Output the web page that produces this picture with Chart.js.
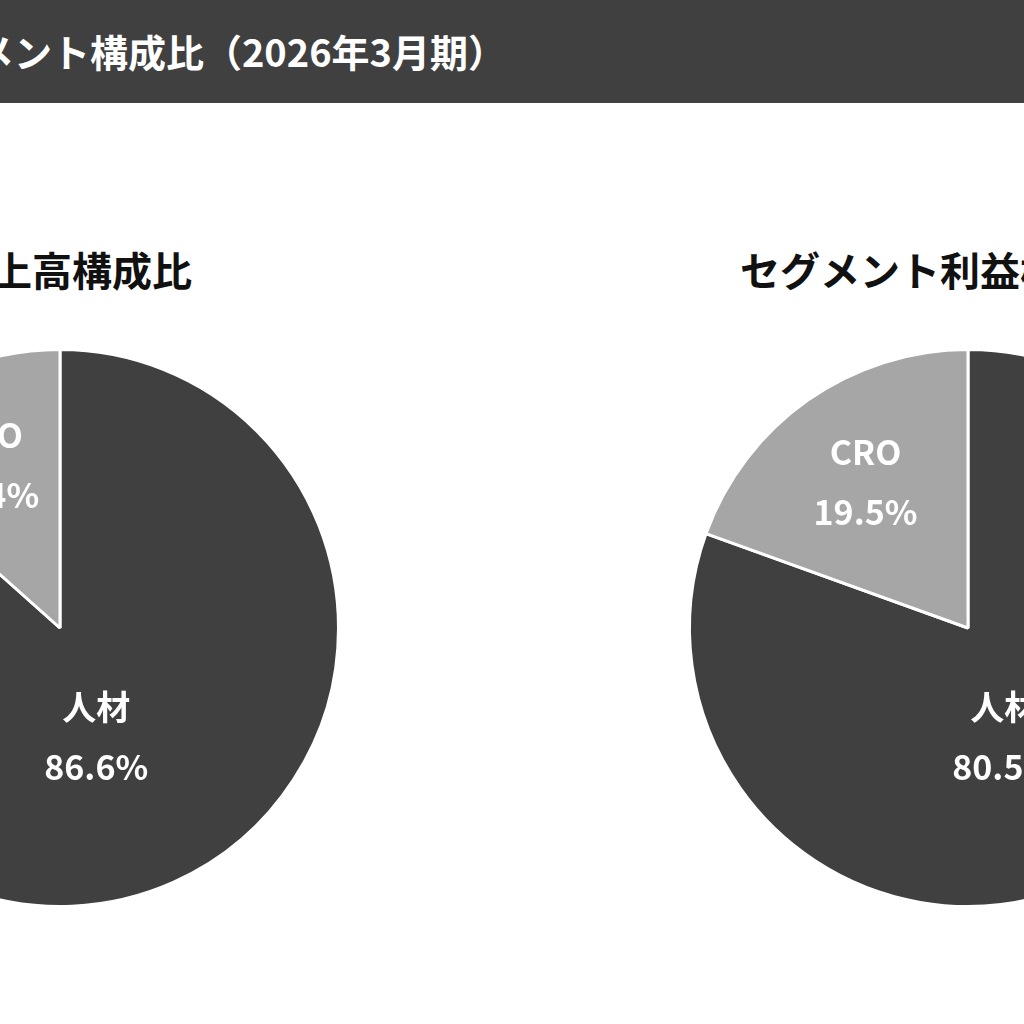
<!DOCTYPE html>
<html><head><meta charset="utf-8">
<script src="https://cdn.jsdelivr.net/npm/chart.js@4"></script>
<style>
body{margin:0;width:1024px;height:1024px;overflow:hidden;background:#fff;position:relative;font-family:"Noto Sans CJK JP","Noto Sans",sans-serif;}
.hdr{position:absolute;left:0;top:0;width:1024px;height:103px;background:#404040;}
.hdr span{position:absolute;right:518px;top:50%;transform:translateY(-52%);color:#fff;font-weight:bold;font-size:38px;white-space:nowrap;}
.t{position:absolute;font-weight:bold;font-size:40px;color:#111;white-space:nowrap;top:240px;}
.c{position:absolute;top:328px;width:600px;height:600px;}
</style></head><body>
<div class="hdr"><span>セグメント構成比（2026年3月期）</span></div>
<div class="t" style="right:832px">売上高構成比</div>
<div class="t" style="left:740px">セグメント利益構成比</div>
<div class="c" style="left:-240px"><canvas id="a"></canvas></div>
<div class="c" style="left:668px"><canvas id="b"></canvas></div>
<script>
const categories=["人材","CRO"];
const salesValues=[86.6,13.4];
const profitValues=[80.5,19.5];
const colors=["#404040","#a6a6a6"];
const labelPlugin={id:"lbl",afterDatasetsDraw(chart){
  const ctx=chart.ctx;const meta=chart.getDatasetMeta(0);
  meta.data.forEach((arc,i)=>{
    const v=chart.data.datasets[0].data[i];
    let x,y;
    if(i===1){const a=(arc.startAngle+arc.endAngle)/2;x=arc.x+Math.cos(a)*arc.outerRadius*0.64;y=arc.y+Math.sin(a)*arc.outerRadius*0.64;}
    else{x=arc.x+arc.outerRadius*0.13;y=arc.y+arc.outerRadius*0.39;}
    ctx.save();ctx.fillStyle="#fff";ctx.textAlign="center";ctx.textBaseline="middle";
    ctx.font='bold 34px "Noto Sans CJK JP"';
    ctx.fillText(categories[i],x,y-30);
    ctx.fillText(v.toFixed(1)+"%",x,y+30);
    ctx.restore();
  });
}};
function mk(id,data){
  new Chart(document.getElementById(id),{type:"pie",
    data:{labels:categories,datasets:[{data,backgroundColor:colors,borderColor:"#fff",borderWidth:3}]},
    options:{responsive:false,animation:false,layout:{padding:20},
      plugins:{legend:{display:false},tooltip:{enabled:false}}},
    plugins:[labelPlugin]});
}
document.getElementById("a").width=600;document.getElementById("a").height=600;
document.getElementById("b").width=600;document.getElementById("b").height=600;
mk("a",salesValues);mk("b",profitValues);
</script></body></html>
